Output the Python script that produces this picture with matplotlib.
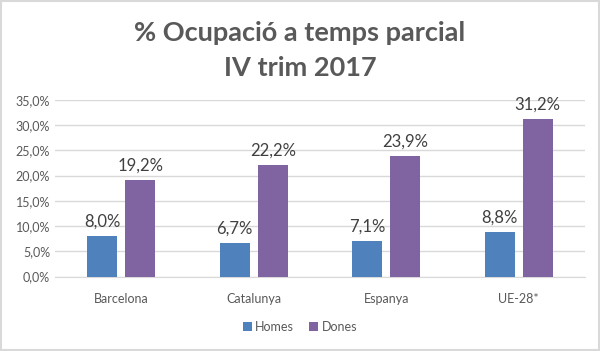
import matplotlib.pyplot as plt
import numpy as np
from matplotlib.ticker import FuncFormatter

# dades
categories = ['Barcelona', 'Catalunya', 'Espanya', 'UE-28*']
homes = [8.0, 6.7, 7.1, 8.8]
dones = [19.2, 22.2, 23.9, 31.2]
series_names = ['Homes', 'Dones']

plt.rcParams['font.family'] = ['Lato', 'DejaVu Sans']
grey = '#595959'

fig = plt.figure(figsize=(6, 3.51), dpi=100)
ax = fig.add_axes([55 / 600, 1 - 276.5 / 351, 530 / 600, 176.5 / 351])

x = np.arange(len(categories))
w = 0.226
b1 = ax.bar(x - 0.03 - w / 2, homes, w, color='#4F81BD', label=series_names[0], zorder=3)
b2 = ax.bar(x + 0.03 + w / 2, dones, w, color='#8064A2', label=series_names[1], zorder=3)

for bars, vals in ((b1, homes), (b2, dones)):
    for r, v in zip(bars, vals):
        ax.text(r.get_x() + r.get_width() / 2, v + 1.2, f'{v:.1f}%'.replace('.', ','),
                ha='center', va='bottom', fontsize=12, color='#404040')

ax.set_xlim(-0.5, len(categories) - 0.5)
ax.set_ylim(0, 35)
ax.set_yticks(np.arange(0, 36, 5))
ax.yaxis.set_major_formatter(FuncFormatter(lambda v, p: f'{v:.1f}%'.replace('.', ',')))
ax.set_xticks(x)
ax.set_xticklabels(categories)
ax.tick_params(axis='both', length=0, labelsize=9, colors=grey)
ax.tick_params(axis='x', pad=12)
ax.grid(axis='y', color='#D9D9D9', linewidth=1, zorder=0)
for s in ['top', 'right', 'left']:
    ax.spines[s].set_visible(False)
ax.spines['bottom'].set_color('#D9D9D9')

fig.text(0.5, 0.855, '% Ocupació a temps parcial\nIV trim 2017', ha='center', va='center',
         fontsize=19.5, fontweight='bold', color=grey, linespacing=1.55)

fig.legend(loc='lower center', bbox_to_anchor=(0.5, 0.02), ncol=2, frameon=False,
           fontsize=9, labelcolor=grey, handlelength=0.7, handleheight=0.7,
           handletextpad=0.3, columnspacing=1.2)

# marc gris
fig.patches.append(plt.Rectangle((0.002, 0.003), 0.996, 0.994, transform=fig.transFigure,
                                 fill=False, edgecolor='#D9D9D9', linewidth=1.5))

fig.savefig('out.png', dpi=100)
